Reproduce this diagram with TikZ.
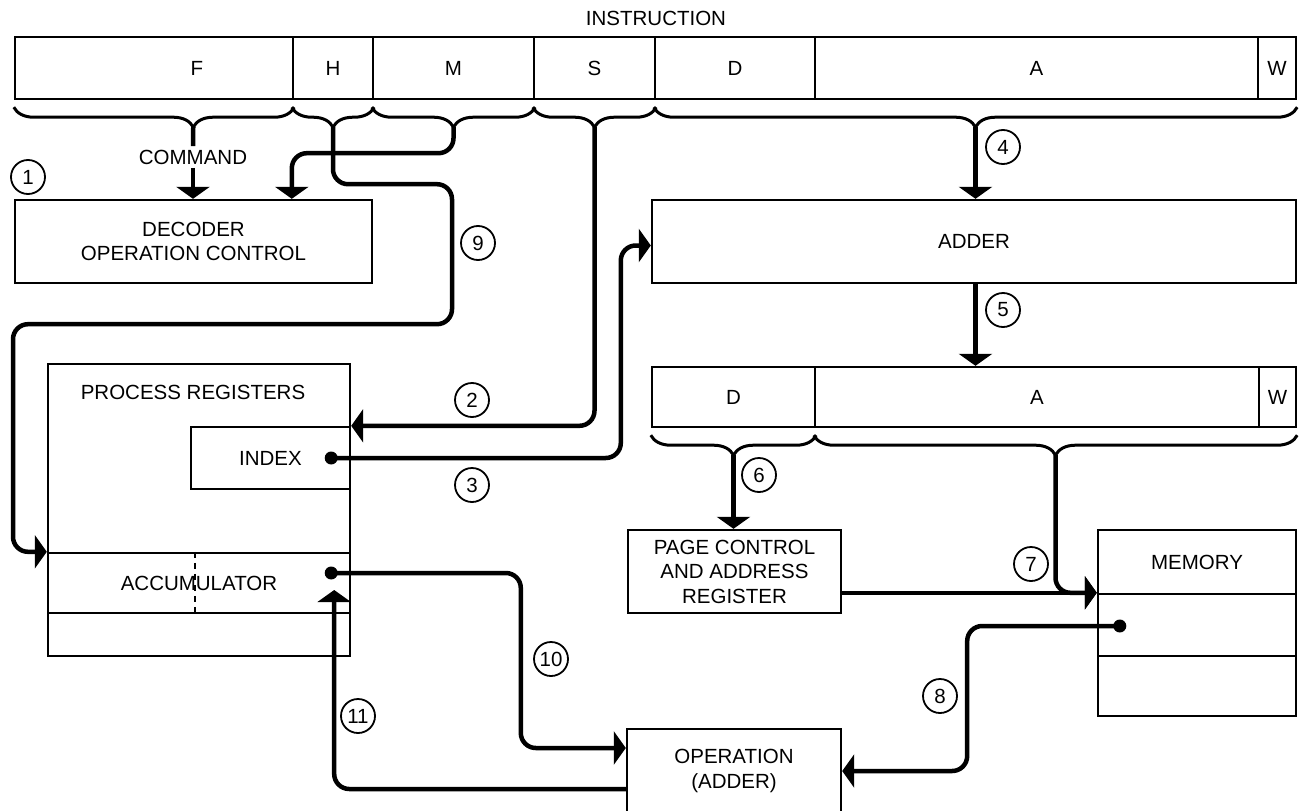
\documentclass[tikz,border=0pt]{standalone}
\usepackage{fontspec}
\setmainfont{Liberation Sans}
\usetikzlibrary{arrows.meta,calc,decorations.pathreplacing}
\tikzset{
  >={Triangle[width=33pt,length=12pt]},
  font=\fontsize{20.5}{24.5}\selectfont,
  box/.style={draw, line width=2.4pt, inner sep=0pt, align=center},
  field/.style={box, minimum height=62pt},
  bus/.style={line width=4.5pt, rounded corners=15pt},
  brc/.style={decorate, decoration={brace, mirror, amplitude=20pt, aspect=#1}, line width=3pt},
  brc/.default=0.5,
  num/.style={circle, draw, line width=1.8pt, minimum size=34pt, inner sep=0pt}
}

\begin{document}
\begin{tikzpicture}[x=1pt,y=-1pt]
  \useasboundingbox (0,0) rectangle (1302,811);

  % instruction word
  \node (instr) at (656,18) {INSTRUCTION};
  \node[field,minimum width=278pt,label={[xshift=43pt]center:F}] (F) at (154,68) {};
  \node[field,minimum width=80pt] (H) at (333,68) {H};
  \node[field,minimum width=161pt] (M) at (453.5,68) {M};
  \node[field,minimum width=121pt] (S) at (594.5,68) {S};
  \node[field,minimum width=160pt] (D) at (735,68) {D};
  \node[field,minimum width=443pt] (A) at (1036.5,68) {A};
  \node[field,minimum width=38pt] (W) at (1277,68) {W};

  \draw[brc=0.64] ($(F.south west)+(0,7)$) -- ($(F.south east)+(0,7)$);
  \draw[brc] ($(H.south west)+(0,7)$) -- ($(H.south east)+(0,7)$);
  \draw[brc] ($(M.south west)+(0,7)$) -- ($(M.south east)+(0,7)$);
  \draw[brc] ($(S.south west)+(0,7)$) -- ($(S.south east)+(0,7)$);
  \draw[brc] ($(D.south west)+(0,7)$) -- ($(W.south east)+(0,7)$);
  \coordinate (tF) at ($(F.south west)!0.64!(F.south east)+(0,27)$);
  \coordinate (tH) at ($(H.south)+(0,27)$);
  \coordinate (tM) at ($(M.south)+(0,27)$);
  \coordinate (tS) at ($(S.south)+(0,27)$);
  \coordinate (tDAW) at ($(D.south west)!0.5!(W.south east)+(0,27)$);

  % units
  \node (cmd) at (193,157) {COMMAND};
  \node[box,minimum width=357pt,minimum height=83pt] (dec) at (193.5,241.5) {DECODER\\OPERATION CONTROL};
  \node[box,minimum width=644pt,minimum height=83pt] (adder) at (974,241.5) {ADDER};

  \node[field,minimum width=163pt,minimum height=60pt] (D2) at (733.5,397) {D};
  \node[field,minimum width=444pt,minimum height=60pt] (A2) at (1037,397) {A};
  \node[field,minimum width=37pt,minimum height=60pt] (W2) at (1277.5,397) {W};
  \draw[brc] ($(D2.south west)+(0,7)$) -- ($(D2.south east)+(0,7)$);
  \draw[brc] ($(A2.south west)+(0,7)$) -- ($(W2.south east)+(0,7)$);
  \coordinate (tD2) at ($(D2.south)+(0,27)$);
  \coordinate (tAW) at ($(A2.south west)!0.5!(W2.south east)+(0,27)$);

  \node[box,minimum width=302pt,minimum height=292pt] (preg) at (199,510) {};
  \node (pregt) at (193,392) {PROCESS REGISTERS};
  \node[box,minimum width=159pt,minimum height=62pt] (idx) at (270.5,458) {INDEX};
  \node[box,minimum width=302pt,minimum height=60pt] (acc) at (199,583) {ACCUMULATOR};
  \draw[line width=1.6pt,dash pattern=on 6pt off 5pt] ($(acc.north)+(-4,0)$) -- ($(acc.south)+(-4,0)$);

  \node[box,minimum width=213pt,minimum height=83pt] (pc) at (734.5,571.5) {PAGE CONTROL\\AND ADDRESS\\REGISTER};
  \node[box,minimum width=198pt,minimum height=64pt] (memtop) at (1197,562) {MEMORY};
  \node[box,minimum width=198pt,minimum height=62pt] (memmid) at (1197,625) {};
  \node[box,minimum width=198pt,minimum height=60pt] (membot) at (1197,686) {};
  \node[box,minimum width=214pt,minimum height=84pt] (op) at (734,771) {OPERATION\\(ADDER)};

  \coordinate (idot) at ($(idx.east)+(-20,0)$);
  \coordinate (adot) at ($(acc.east)+(-20,-10)$);
  \coordinate (accin) at ($(acc.east)+(-17,7)$);
  \coordinate (mdot) at ($(memmid.west)+(23,1)$);
  \fill (idot) circle (6.5) (adot) circle (6.5) (mdot) circle (6.5);

  % data paths
  \draw[bus] (tF) -- (cmd.north);
  \draw[bus,->] (cmd.south) -- (cmd.south |- dec.north);
  \draw[bus,->] (tM) -- ++(0,26) -| (dec.north -| H.west);
  \draw[bus,->] (tH) |- ++(119,57) |- ++(-439,140) |- (acc.north west);
  \draw[bus,->] (tS) |- (idx.north east);
  \draw[bus,->] (idot) -| ($(adder.west)+(-30,4)$) -- ($(adder.west)+(0,4)$);
  \draw[bus,->] (tDAW) -- (tDAW |- adder.north);
  \draw[bus,->] (tDAW |- adder.south) -- (tDAW |- A2.north);
  \draw[bus,->] (tD2) -- (tD2 |- pc.north);
  \draw[bus,->] (tAW) |- (memmid.north west);
  \draw[bus,->] (pc.east |- memmid.north west) -- (memmid.north west);
  \draw[bus,->] (mdot) -| ($(op.east)+(125,0)$) -- (op.east);
  \draw[bus,->] (adot) -| ($(op.west)+(-105,-23)$) -- ($(op.west)+(0,-23)$);
  \draw[bus,->] ($(op.west)+(0,18)$) -| (accin);

  % step numbers
  \node[num] (n1) at (28,177) {1};
  \node[num] (n2) at (472,400) {2};
  \node[num] (n3) at (472,485) {3};
  \node[num] (n4) at (1003,147) {4};
  \node[num] (n5) at (1003,310) {5};
  \node[num] (n6) at (759,475) {6};
  \node[num] (n7) at (1031,564) {7};
  \node[num] (n8) at (940,696) {8};
  \node[num] (n9) at (478,243) {9};
  \node[num] (n10) at (551,659) {10};
  \node[num] (n11) at (358,716) {11};
\end{tikzpicture}
\end{document}
